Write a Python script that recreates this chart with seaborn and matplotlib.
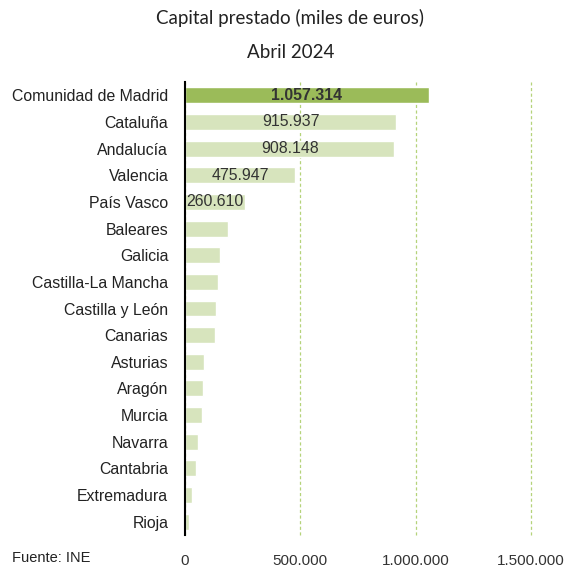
import matplotlib
matplotlib.use("Agg")
import matplotlib.pyplot as plt
import seaborn as sns
import pandas as pd
from matplotlib.ticker import FuncFormatter

regiones = ["Comunidad de Madrid", "Cataluña", "Andalucía", "Valencia", "País Vasco",
            "Baleares", "Galicia", "Castilla-La Mancha", "Castilla y León", "Canarias",
            "Asturias", "Aragón", "Murcia", "Navarra", "Cantabria", "Extremadura", "Rioja"]
capital = [1057314, 915937, 908148, 475947, 260610,
           187000, 153000, 143000, 136000, 132000,
           84000, 80000, 75000, 55000, 49000, 32000, 17000]
etiquetas = ["1.057.314", "915.937", "908.148", "475.947", "260.610"]
xticks = [0, 500000, 1000000, 1500000]

df = pd.DataFrame({"region": regiones, "capital": capital})

sns.set_style("white")
plt.rcParams["font.family"] = ["Liberation Sans", "DejaVu Sans"]

fig = plt.figure(figsize=(5.81, 5.70), dpi=100)
ax = fig.add_axes([185 / 581, 1 - 535 / 570, (531 - 185) / 581, (535 - 82) / 570])

colores = ["#9BBB59"] + ["#D7E4BD"] * (len(regiones) - 1)
sns.barplot(data=df, y="region", x="capital", hue="region", palette=colores,
            legend=False, width=0.6, ax=ax, saturation=1)

ax.set_xlim(0, 1500000)
ax.set_xticks(xticks)
ax.xaxis.set_major_formatter(FuncFormatter(lambda v, p: f"{int(v):,}".replace(",", ".")))
ax.grid(axis="x", color="#B5D37A", linestyle=(0, (2.5, 2)), linewidth=0.9)
for gl in ax.get_xgridlines():
    gl.set_clip_on(False)
ax.set_axisbelow(True)
for s in ["top", "right", "bottom"]:
    ax.spines[s].set_visible(False)
ax.spines["left"].set_color("black")
ax.spines["left"].set_linewidth(1.5)
ax.set_xlabel("")
ax.set_ylabel("")
ax.tick_params(axis="y", labelsize=11.4, length=0, pad=12, colors="#222222")
ax.tick_params(axis="x", labelsize=11, length=0, pad=14, colors="#333333")

for i, lab in enumerate(etiquetas):
    ax.text(capital[i] / 2, i, lab, ha="center", va="center", fontsize=11.4,
            color="#333333", fontweight="bold" if i == 0 else "normal")

fig.text(0.5, 1 - 18 / 570, "Capital prestado (miles de euros)", ha="center", va="center",
         fontsize=13.5, family=["Lato", "DejaVu Sans"], color="#222222")
fig.text(0.5, 1 - 52 / 570, "Abril 2024", ha="center", va="center",
         fontsize=13.5, family=["Lato", "DejaVu Sans"], color="#222222")
fig.text(12 / 581, 1 - 558 / 570, "Fuente: INE", ha="left", va="center", fontsize=10.5,
         color="#222222")

fig.savefig("out.png", dpi=100)
